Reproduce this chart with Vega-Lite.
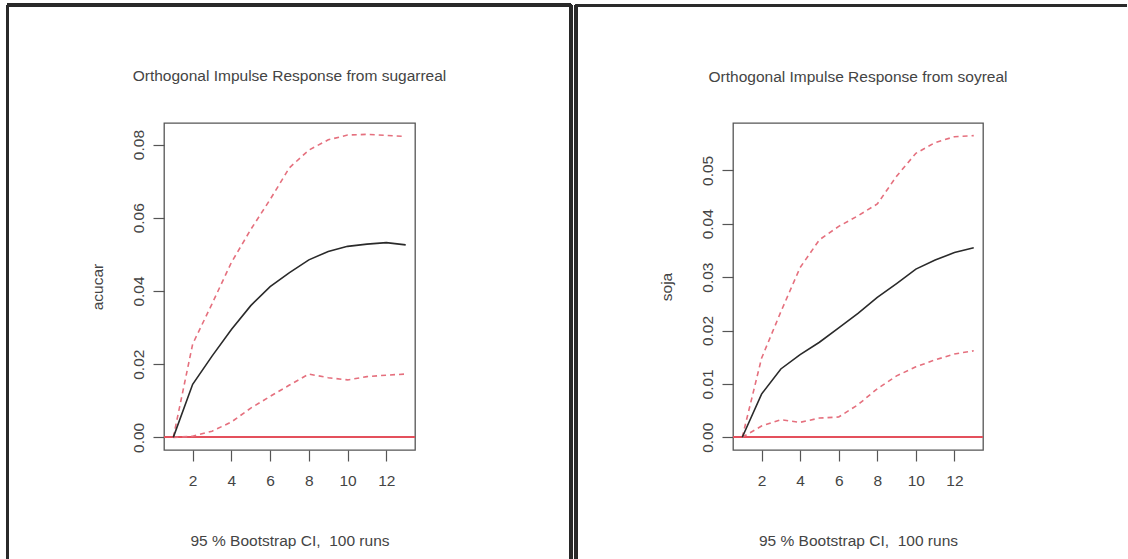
{
  "$schema": "https://vega.github.io/schema/vega-lite/v6.json",
  "background": "white",
  "padding": {"left": 5, "top": 2, "right": 0, "bottom": 0},
  "autosize": {"type": "pad"},
  "datasets": {
    "acucar": [
      {"step": 1, "band": "irf", "value": 0}, {"step": 2, "band": "irf", "value": 0.0145}, {"step": 3, "band": "irf", "value": 0.0222}, {"step": 4, "band": "irf", "value": 0.0295}, {"step": 5, "band": "irf", "value": 0.036}, {"step": 6, "band": "irf", "value": 0.0412}, {"step": 7, "band": "irf", "value": 0.045}, {"step": 8, "band": "irf", "value": 0.0485}, {"step": 9, "band": "irf", "value": 0.0508}, {"step": 10, "band": "irf", "value": 0.0522}, {"step": 11, "band": "irf", "value": 0.0528}, {"step": 12, "band": "irf", "value": 0.0532}, {"step": 13, "band": "irf", "value": 0.0526},
      {"step": 1, "band": "lower", "value": 0}, {"step": 2, "band": "lower", "value": 0.0003}, {"step": 3, "band": "lower", "value": 0.0017}, {"step": 4, "band": "lower", "value": 0.0042}, {"step": 5, "band": "lower", "value": 0.008}, {"step": 6, "band": "lower", "value": 0.0112}, {"step": 7, "band": "lower", "value": 0.0143}, {"step": 8, "band": "lower", "value": 0.0173}, {"step": 9, "band": "lower", "value": 0.0163}, {"step": 10, "band": "lower", "value": 0.0157}, {"step": 11, "band": "lower", "value": 0.0166}, {"step": 12, "band": "lower", "value": 0.017}, {"step": 13, "band": "lower", "value": 0.0173},
      {"step": 1, "band": "upper", "value": 0}, {"step": 2, "band": "upper", "value": 0.0255}, {"step": 3, "band": "upper", "value": 0.0365}, {"step": 4, "band": "upper", "value": 0.0478}, {"step": 5, "band": "upper", "value": 0.0568}, {"step": 6, "band": "upper", "value": 0.065}, {"step": 7, "band": "upper", "value": 0.0737}, {"step": 8, "band": "upper", "value": 0.0785}, {"step": 9, "band": "upper", "value": 0.0813}, {"step": 10, "band": "upper", "value": 0.0826}, {"step": 11, "band": "upper", "value": 0.0828}, {"step": 12, "band": "upper", "value": 0.0825}, {"step": 13, "band": "upper", "value": 0.0822}
    ],
    "soja": [
      {"step": 1, "band": "irf", "value": 0}, {"step": 2, "band": "irf", "value": 0.0081}, {"step": 3, "band": "irf", "value": 0.0128}, {"step": 4, "band": "irf", "value": 0.0155}, {"step": 5, "band": "irf", "value": 0.0178}, {"step": 6, "band": "irf", "value": 0.0205}, {"step": 7, "band": "irf", "value": 0.0232}, {"step": 8, "band": "irf", "value": 0.0262}, {"step": 9, "band": "irf", "value": 0.0288}, {"step": 10, "band": "irf", "value": 0.0315}, {"step": 11, "band": "irf", "value": 0.0332}, {"step": 12, "band": "irf", "value": 0.0346}, {"step": 13, "band": "irf", "value": 0.0355},
      {"step": 1, "band": "lower", "value": 0}, {"step": 2, "band": "lower", "value": 0.0021}, {"step": 3, "band": "lower", "value": 0.0033}, {"step": 4, "band": "lower", "value": 0.0028}, {"step": 5, "band": "lower", "value": 0.0036}, {"step": 6, "band": "lower", "value": 0.0038}, {"step": 7, "band": "lower", "value": 0.0061}, {"step": 8, "band": "lower", "value": 0.0091}, {"step": 9, "band": "lower", "value": 0.0115}, {"step": 10, "band": "lower", "value": 0.0132}, {"step": 11, "band": "lower", "value": 0.0145}, {"step": 12, "band": "lower", "value": 0.0156}, {"step": 13, "band": "lower", "value": 0.0162},
      {"step": 1, "band": "upper", "value": 0}, {"step": 2, "band": "upper", "value": 0.0148}, {"step": 3, "band": "upper", "value": 0.0235}, {"step": 4, "band": "upper", "value": 0.0318}, {"step": 5, "band": "upper", "value": 0.037}, {"step": 6, "band": "upper", "value": 0.0395}, {"step": 7, "band": "upper", "value": 0.0415}, {"step": 8, "band": "upper", "value": 0.0437}, {"step": 9, "band": "upper", "value": 0.0489}, {"step": 10, "band": "upper", "value": 0.0532}, {"step": 11, "band": "upper", "value": 0.0552}, {"step": 12, "band": "upper", "value": 0.0563}, {"step": 13, "band": "upper", "value": 0.0565}
    ]
  },
  "config": {
    "font": "Liberation Sans",
    "view": {"stroke": "#555555", "strokeWidth": 1.3},
    "title": {"font": "Liberation Sans", "fontSize": 15.5, "fontWeight": "normal", "color": "#444444", "anchor": "middle", "baseline": "alphabetic", "offset": -80.7},
    "axis": {"domain": false, "grid": false, "tickColor": "#555555", "tickSize": 11, "tickWidth": 1.2, "labelFont": "Liberation Sans", "labelFontSize": 15.5, "labelColor": "#444444", "titleFont": "Liberation Sans", "titleFontSize": 15.5, "titleFontWeight": "normal", "titleColor": "#444444"},
    "axisX": {"labelPadding": 12, "titlePadding": 45, "labelAngle": 0},
    "axisY": {"labelPadding": 7, "titlePadding": 26, "labelAngle": 270},
    "concat": {"spacing": 318}
  },
  "bounds": "flush",
  "hconcat": [
    {
      "width": 251,
      "height": 327,
      "title": "Orthogonal Impulse Response from sugarreal",
      "data": {"name": "acucar"},
      "encoding": {
        "x": {"field": "step", "type": "quantitative", "scale": {"domain": [0.52, 13.48], "nice": false, "zero": false}, "axis": {"title": "95 % Bootstrap CI, \u00a0100 runs", "values": [2, 4, 6, 8, 10, 12]}},
        "y": {"field": "value", "type": "quantitative", "scale": {"domain": [-0.00345, 0.0859], "nice": false, "zero": false}, "axis": {"title": "acucar", "values": [0, 0.02, 0.04, 0.06, 0.08], "format": ".2f"}}
      },
      "layer": [
        {"mark": {"type": "rule", "color": "#e4505c", "strokeWidth": 1.2}, "encoding": {"x": null, "y": {"datum": 0}}},
        {"transform": [{"filter": "datum.band !== 'irf'"}], "mark": {"type": "line", "color": "#e5707e", "strokeWidth": 1.6, "strokeDash": [5, 4]}, "encoding": {"detail": {"field": "band"}}},
        {"transform": [{"filter": "datum.band === 'irf'"}], "mark": {"type": "line", "color": "#2a2a2a", "strokeWidth": 1.6}},
        {"mark": {"type": "rule", "color": "#2a2a2a", "strokeWidth": 2.6, "clip": false}, "encoding": {"x": {"datum": -7.565}, "y": {"datum": 0.11816}, "y2": {"datum": -0.03319}}},
        {"mark": {"type": "rule", "color": "#2a2a2a", "strokeWidth": 2.6, "clip": false}, "encoding": {"x": {"datum": 21.54}, "y": {"datum": 0.11816}, "y2": {"datum": -0.03319}}},
        {"mark": {"type": "rule", "color": "#2a2a2a", "strokeWidth": 2.6, "clip": false}, "encoding": {"x": {"datum": -7.565}, "x2": {"datum": 21.54}, "y": {"datum": 0.11816}}}
      ]
    },
    {
      "width": 250,
      "height": 327,
      "title": "Orthogonal Impulse Response from soyreal",
      "data": {"name": "soja"},
      "encoding": {
        "x": {"field": "step", "type": "quantitative", "scale": {"domain": [0.52, 13.48], "nice": false, "zero": false}, "axis": {"title": "95 % Bootstrap CI, \u00a0100 runs", "values": [2, 4, 6, 8, 10, 12]}},
        "y": {"field": "value", "type": "quantitative", "scale": {"domain": [-0.00238, 0.05887], "nice": false, "zero": false}, "axis": {"title": "soja", "values": [0, 0.01, 0.02, 0.03, 0.04, 0.05], "format": ".2f"}}
      },
      "layer": [
        {"mark": {"type": "rule", "color": "#e4505c", "strokeWidth": 1.2}, "encoding": {"x": null, "y": {"datum": 0}}},
        {"transform": [{"filter": "datum.band !== 'irf'"}], "mark": {"type": "line", "color": "#e5707e", "strokeWidth": 1.6, "strokeDash": [5, 4]}, "encoding": {"detail": {"field": "band"}}},
        {"transform": [{"filter": "datum.band === 'irf'"}], "mark": {"type": "line", "color": "#2a2a2a", "strokeWidth": 1.6}},
        {"mark": {"type": "rule", "color": "#2a2a2a", "strokeWidth": 2.6, "clip": false}, "encoding": {"x": {"datum": -7.624}, "y": {"datum": 0.08084}, "y2": {"datum": -0.02287}}},
        {"mark": {"type": "rule", "color": "#2a2a2a", "strokeWidth": 2.6, "clip": false}, "encoding": {"x": {"datum": -7.624}, "x2": {"datum": 20.93}, "y": {"datum": 0.08084}}}
      ]
    }
  ]
}
